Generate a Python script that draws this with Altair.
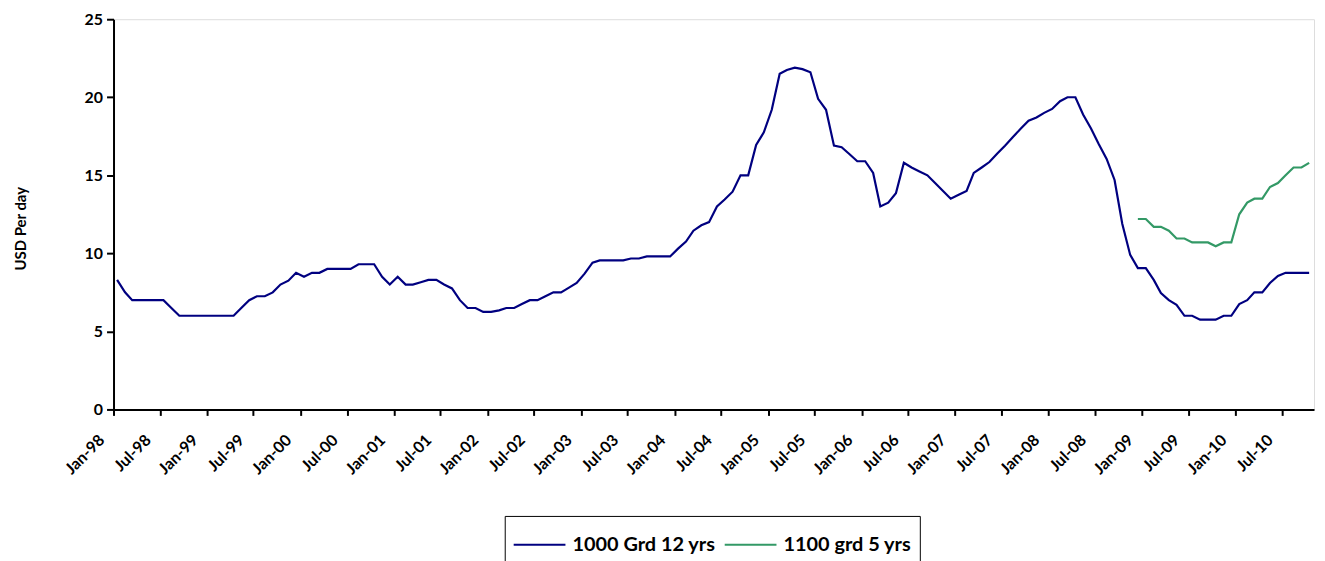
import altair as alt
import pandas as pd

# Monthly values, Jan-98 .. Oct-10 (index 0 = Jan-98)
grd1000 = [
    8.3, 7.5, 7.0, 7.0, 7.0, 7.0, 7.0, 6.5, 6.0, 6.0, 6.0, 6.0,      # 1998
    6.0, 6.0, 6.0, 6.0, 6.5, 7.0, 7.25, 7.25, 7.5, 8.0, 8.25, 8.75,  # 1999
    8.5, 8.75, 8.75, 9.0, 9.0, 9.0, 9.0, 9.3, 9.3, 9.3, 8.5, 8.0,    # 2000
    8.5, 8.0, 8.0, 8.15, 8.3, 8.3, 8.0, 7.75, 7.0, 6.5, 6.5, 6.25,   # 2001
    6.25, 6.35, 6.5, 6.5, 6.75, 7.0, 7.0, 7.25, 7.5, 7.5, 7.8, 8.1,  # 2002
    8.7, 9.4, 9.55, 9.55, 9.55, 9.55, 9.67, 9.67, 9.8, 9.8, 9.8, 9.8,  # 2003
    10.3, 10.75, 11.45, 11.8, 12.0, 13.0, 13.45, 13.95, 15.0, 15.0, 16.95, 17.75,  # 2004
    19.2, 21.5, 21.75, 21.9, 21.8, 21.6, 19.9, 19.2, 16.9, 16.8, 16.35, 15.9,  # 2005
    15.9, 15.15, 13.0, 13.25, 13.85, 15.8, 15.5, 15.25, 15.0, 14.5, 14.0, 13.5,  # 2006
    13.75, 14.0, 15.15, 15.5, 15.85, 16.4, 16.9, 17.45, 18.0, 18.5, 18.7, 19.0,  # 2007
    19.25, 19.75, 20.0, 20.0, 18.9, 18.0, 17.0, 16.05, 14.7, 11.9, 9.9, 9.05,  # 2008
    9.05, 8.3, 7.45, 7.0, 6.7, 6.0, 6.0, 5.75, 5.75, 5.75, 6.0, 6.0,  # 2009
    6.75, 7.0, 7.5, 7.5, 8.1, 8.55, 8.75, 8.75, 8.75, 8.75,          # 2010 (Jan-Oct)
]

# Dec-08 .. Oct-10
grd1100_start = 131
grd1100 = [
    12.2, 12.2, 11.7, 11.7, 11.45, 10.95, 10.95, 10.7, 10.7, 10.7, 10.45, 10.7,
    10.7, 12.5, 13.25, 13.5, 13.5, 14.25, 14.5, 15.0, 15.5, 15.5, 15.8,
]

series_names = ["1000 Grd 12 yrs", "1100 grd 5 yrs"]
series_colors = ["#000080", "#339966"]


def month_date(i):
    y = 1998 + i // 12
    m = i % 12 + 1
    return f"{y:04d}-{m:02d}-15"


rows = []
for i, v in enumerate(grd1000):
    rows.append({"date": month_date(i), "value": v, "series": series_names[0]})
for j, v in enumerate(grd1100):
    rows.append({"date": month_date(grd1100_start + j), "value": v, "series": series_names[1]})
df = pd.DataFrame(rows)

tick_dates = []
for y in range(1998, 2011):
    tick_dates.append(alt.DateTime(year=y, month=1, date=1, utc=True))
    tick_dates.append(alt.DateTime(year=y, month=7, date=1, utc=True))

FONT = "Lato"

chart = alt.Chart(df).mark_line(strokeWidth=2.2).encode(
    x=alt.X(
        "date:T",
        scale=alt.Scale(
            type="utc",
            domain=[alt.DateTime(year=1998, month=1, date=1, utc=True),
                    alt.DateTime(year=2010, month=11, date=3, utc=True)],
        ),
        axis=alt.Axis(
            values=tick_dates,
            labelExpr="utcFormat(datum.value, '%b-%y')",
            labelAngle=-45,
            labelAlign="right",
            labelBaseline="middle",
            labelPadding=22,
            labelOffset=-12,
            labelFont=FONT,
            labelFontSize=16,
            labelFontWeight="bold",
            labelColor="black",
            labelOverlap=False,
            labelBound=False,
            tickColor="black",
            tickSize=6,
            tickWidth=2,
            domainColor="black",
            domainWidth=2,
            grid=False,
            title=None,
        ),
    ),
    y=alt.Y(
        "value:Q",
        scale=alt.Scale(domain=[0, 25], nice=False),
        axis=alt.Axis(
            values=[0, 5, 10, 15, 20, 25],
            labelFont=FONT,
            labelFontSize=16,
            labelFontWeight="bold",
            labelColor="black",
            labelPadding=4,
            tickColor="black",
            tickSize=7,
            tickWidth=2,
            domainColor="black",
            domainWidth=2,
            grid=False,
            title="USD Per day",
            titleFont=FONT,
            titleFontSize=15,
            titleFontWeight="bold",
            titleColor="black",
            titleAngle=270,
            titleAlign="center",
            titleBaseline="middle",
            titleX=-93,
            titleY=210,
        ),
    ),
    color=alt.Color(
        "series:N",
        scale=alt.Scale(domain=series_names, range=series_colors),
        legend=alt.Legend(
            title=None,
            orient="none",
            legendX=393,
            legendY=499,
            direction="horizontal",
            symbolType="M-1,0H1.6",
            symbolStrokeWidth=2,
            symbolSize=1600,
            labelFont=FONT,
            labelFontSize=20,
            labelFontWeight="bold",
            labelColor="black",
            labelOffset=18,
            columnPadding=5,
            strokeColor="black",
            fillColor="white",
            padding=8,
        ),
    ),
).properties(
    width=1206,
    height=392,
    autosize=alt.AutoSizeParams(type="none"),
    padding={"left": 106, "top": 10, "right": 3, "bottom": 151},
).configure_view(
    stroke="#808080",
    strokeWidth=2,
).configure(background="white")

chart.save("out.html", embed_options={"renderer": "svg", "actions": False})
